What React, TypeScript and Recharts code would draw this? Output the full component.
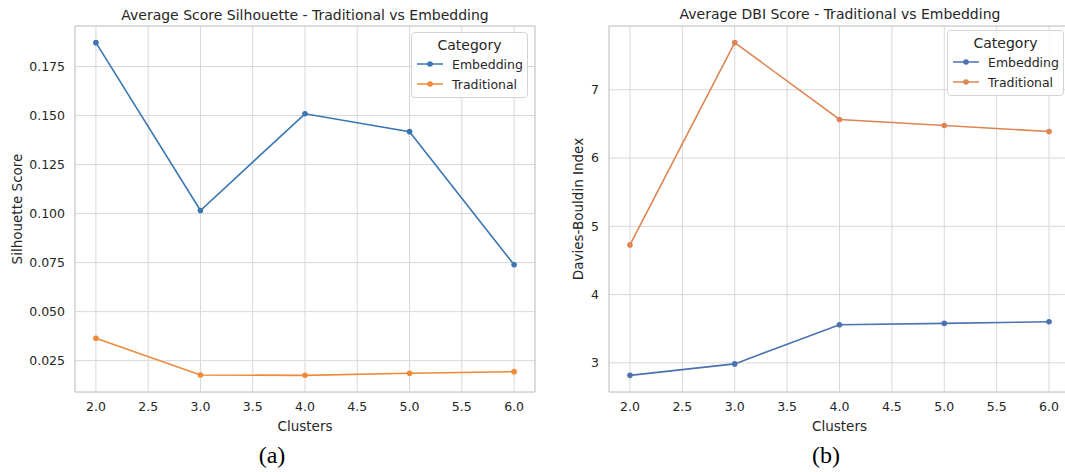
import React from "react";
import {
  LineChart,
  Line,
  XAxis,
  YAxis,
  CartesianGrid,
  Legend,
  ReferenceArea,
} from "recharts";

// values
const clusters = [2, 3, 4, 5, 6];
const silEmbedding = [0.1872, 0.1016, 0.1509, 0.1418, 0.0739];
const silTraditional = [0.0364, 0.0177, 0.0175, 0.0186, 0.0194];
const dbiEmbedding = [2.817, 2.985, 3.559, 3.578, 3.603];
const dbiTraditional = [4.728, 7.69, 6.565, 6.476, 6.389];

const xTicks = [2, 2.5, 3, 3.5, 4, 4.5, 5, 5.5, 6];
const silTicks = [0.025, 0.05, 0.075, 0.1, 0.125, 0.15, 0.175];
const dbiTicks = [3, 4, 5, 6, 7];

const FONT = "'DejaVu Sans', sans-serif";
const TEXT = "#262626";
const GRID = "#d8d8d8";

// matplotlib style 5% padding around the data
const pad = (vals: number[]): [number, number] => {
  const lo = Math.min(...vals);
  const hi = Math.max(...vals);
  const m = (hi - lo) * 0.05;
  return [lo - m, hi + m];
};

const makeRows = (emb: number[], trad: number[]) =>
  clusters.map((c, i) => ({ x: c, Embedding: emb[i], Traditional: trad[i] }));

const YTitle = (props: any) => {
  const { viewBox, text, tx } = props;
  const cy = viewBox.y + viewBox.height / 2;
  return (
    <text
      x={tx}
      y={cy}
      transform={`rotate(-90 ${tx} ${cy})`}
      textAnchor="middle"
      dominantBaseline="central"
      fontSize={13.5}
      fontFamily={FONT}
      fill={TEXT}
    >
      {text}
    </text>
  );
};

const XTitle = (props: any) => {
  const { viewBox, text } = props;
  return (
    <text
      x={viewBox.x + viewBox.width / 2}
      y={viewBox.y + 34}
      textAnchor="middle"
      dominantBaseline="central"
      fontSize={13.5}
      fontFamily={FONT}
      fill={TEXT}
    >
      {text}
    </text>
  );
};

const renderLegend = (props: any) => {
  const { payload } = props;
  return (
    <div
      style={{
        width: 117,
        height: 66,
        boxSizing: "border-box",
        border: "1px solid #d4d4d4",
        borderRadius: 4,
        background: "rgba(255,255,255,0.85)",
        fontFamily: FONT,
        color: TEXT,
        paddingTop: 3,
      }}
    >
      <div style={{ textAlign: "center", fontSize: 14, lineHeight: "18px" }}>Category</div>
      {payload.map((p: any) => (
        <div key={p.value} style={{ display: "flex", alignItems: "center", height: 20 }}>
          <svg width={40} height={10} style={{ flex: "none" }}>
            <line x1={5} y1={5} x2={31} y2={5} stroke={p.color} strokeWidth={1.5} />
            <circle cx={18} cy={5} r={2.8} fill={p.color} />
          </svg>
          <span style={{ fontSize: 12.5 }}>{p.value}</span>
        </div>
      ))}
    </div>
  );
};

interface PanelProps {
  left: number;
  width: number;
  yAxisWidth: number;
  rightMargin: number;
  yTitleX: number;
  yLabel: string;
  rows: { x: number; Embedding: number; Traditional: number }[];
  yDomain: [number, number];
  yTicks: number[];
  yFmt: (v: number) => string;
  colors: [string, string];
  legendPos: { left: number; top: number };
}

const Panel = (p: PanelProps) => {
  const xDomain = pad(clusters);
  return (
    <div style={{ position: "absolute", left: p.left, top: 0 }}>
      <LineChart
        width={p.width}
        height={440}
        data={p.rows}
        margin={{ top: 26, right: p.rightMargin, bottom: 0, left: 0 }}
      >
        <CartesianGrid stroke={GRID} strokeWidth={1} />
        <XAxis
          dataKey="x"
          type="number"
          domain={xDomain}
          ticks={xTicks}
          interval={0}
          tickFormatter={(v: number) => v.toFixed(1)}
          axisLine={false}
          tickLine={false}
          tickSize={0}
          tickMargin={10}
          height={48}
          tick={{ fontSize: 12.5, fill: TEXT, fontFamily: FONT }}
          label={<XTitle text="Clusters" />}
        />
        <YAxis
          type="number"
          domain={p.yDomain}
          ticks={p.yTicks}
          interval={0}
          tickFormatter={p.yFmt}
          axisLine={false}
          tickLine={false}
          tickSize={0}
          tickMargin={10}
          width={p.yAxisWidth}
          tick={{ fontSize: 12.5, fill: TEXT, fontFamily: FONT }}
          label={<YTitle text={p.yLabel} tx={p.yTitleX} />}
        />
        <ReferenceArea
          x1={xDomain[0]}
          x2={xDomain[1]}
          y1={p.yDomain[0]}
          y2={p.yDomain[1]}
          fill="none"
          fillOpacity={0}
          stroke="#cccccc"
          strokeWidth={1}
        />
        <Legend
          layout="vertical"
          align="center"
          verticalAlign="middle"
          content={renderLegend}
          wrapperStyle={{ left: p.legendPos.left, top: p.legendPos.top, width: 117 }}
        />
        <Line
          type="linear"
          dataKey="Embedding"
          stroke={p.colors[0]}
          strokeWidth={1.6}
          dot={{ r: 2.8, fill: p.colors[0], stroke: p.colors[0], strokeWidth: 0 }}
          activeDot={false}
          isAnimationActive={false}
        />
        <Line
          type="linear"
          dataKey="Traditional"
          stroke={p.colors[1]}
          strokeWidth={1.6}
          dot={{ r: 2.8, fill: p.colors[1], stroke: p.colors[1], strokeWidth: 0 }}
          activeDot={false}
          isAnimationActive={false}
        />
      </LineChart>
    </div>
  );
};

const Caption = ({ cx, cy, text, size }: { cx: number; cy: number; text: string; size: number }) => (
  <div
    style={{
      position: "absolute",
      left: cx - 300,
      width: 600,
      top: cy - 12,
      lineHeight: "24px",
      textAlign: "center",
      fontSize: size,
      color: size > 16 ? "#000" : TEXT,
      fontFamily: size > 16 ? "'Liberation Serif', serif" : FONT,
      whiteSpace: "nowrap",
    }}
  >
    {text}
  </div>
);

export default function App() {
  return (
    <div
      style={{
        position: "fixed",
        left: 0,
        top: 0,
        width: 1065,
        height: 472,
        overflow: "hidden",
        background: "#fff",
      }}
    >
      <Panel
        left={0}
        width={545}
        yAxisWidth={75}
        rightMargin={10}
        yTitleX={17}
        yLabel="Silhouette Score"
        rows={makeRows(silEmbedding, silTraditional)}
        yDomain={pad([...silEmbedding, ...silTraditional])}
        yTicks={silTicks}
        yFmt={(v) => v.toFixed(3)}
        colors={["#3a76b2", "#ee8a3a"]}
        legendPos={{ left: 411, top: 32 }}
      />
      <Panel
        left={545}
        width={545}
        yAxisWidth={64}
        rightMargin={20}
        yTitleX={33}
        yLabel="Davies-Bouldin Index"
        rows={makeRows(dbiEmbedding, dbiTraditional)}
        yDomain={pad([...dbiEmbedding, ...dbiTraditional])}
        yTicks={dbiTicks}
        yFmt={(v) => String(v)}
        colors={["#4c72b0", "#dd8452"]}
        legendPos={{ left: 402, top: 30 }}
      />
      <Caption cx={305} cy={15} size={14} text="Average Score Silhouette - Traditional vs Embedding" />
      <Caption cx={840} cy={14} size={14} text="Average DBI Score - Traditional vs Embedding" />
      <Caption cx={272} cy={455} size={24} text="(a)" />
      <Caption cx={826} cy={455} size={24} text="(b)" />
    </div>
  );
}
